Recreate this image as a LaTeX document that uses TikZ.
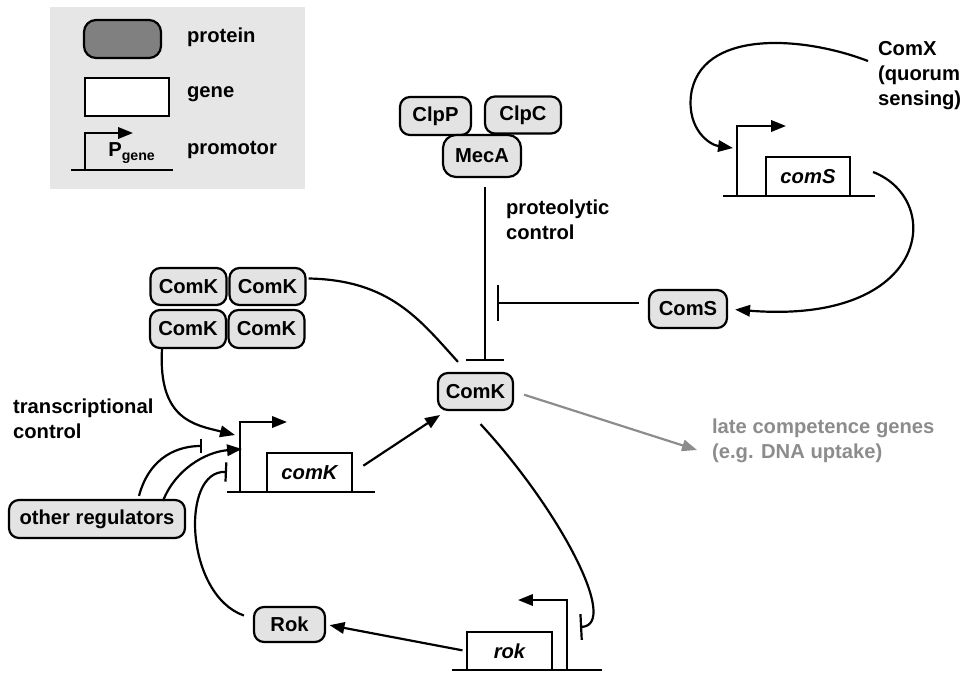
\documentclass[tikz,border=0pt]{standalone}
\usepackage{fontspec}
\setmainfont{Liberation Sans}
\usetikzlibrary{arrows.meta}
\definecolor{boxgray}{HTML}{E3E3E3}
\definecolor{leggray}{HTML}{E6E6E6}
\definecolor{darkprot}{HTML}{808080}
\definecolor{lategray}{HTML}{8C8C8C}
\begin{document}
\begin{tikzpicture}[x=0.02cm, y=-0.02cm, >={Triangle[length=8.5pt,width=6.5pt]}, line width=1.25pt,
    every node/.style={font=\bfseries\fontsize{11.5}{14.2}\selectfont},
    prot/.style={draw, fill=boxgray, rounded corners=0.2cm, minimum width=1.52cm, minimum height=0.74cm, inner sep=0pt},
    gene/.style={draw, fill=white, minimum width=1.7cm, minimum height=0.78cm, inner sep=0pt, font=\bfseries\itshape\fontsize{11.5}{14.2}\selectfont},
    lbl/.style={inner sep=0pt, anchor=west, align=left},
    inh/.style={-{Bar[width=#1]}}]
    \useasboundingbox (0,0) rectangle (964,673);
    % legend
    \fill[leggray] (50,7) rectangle (305,189);
    \node[prot, fill=darkprot, minimum width=1.54cm, minimum height=0.76cm, rounded corners=0.24cm] (legprot) at (122.5,39) {};
    \node[gene, minimum width=1.68cm, minimum height=0.76cm] (leggene) at (127,97) {};
    \draw (71,170) -- (173,170);
    \draw[->] (85,170) -- (85,133) -- (133,133);
    \node[inner sep=0pt] (pgene) at (132,153) {P\textsubscript{gene}};
    \node[lbl] (lprot) at (186,37) {protein};
    \node[lbl] (lgene) at (186,94) {gene};
    \node[lbl] (lprom) at (186,150) {promotor};
    % proteins
    \node[prot, minimum width=1.42cm, minimum height=0.76cm] (ClpP) at (435.5,116) {ClpP};
    \node[prot] (ClpC) at (523,115) {ClpC};
    \node[prot, minimum width=1.56cm, minimum height=0.84cm, rounded corners=0.26cm] (MecA) at (482,156) {MecA};
    \node[prot] (K1) at (188.5,286.5) {ComK};
    \node[prot] (K2) at (267.5,286.5) {ComK};
    \node[prot, minimum height=0.76cm] (K3) at (188,329) {ComK};
    \node[prot, minimum height=0.76cm] (K4) at (266.5,329) {ComK};
    \node[prot, minimum width=1.5cm] (ComK) at (475.5,391.5) {ComK};
    \node[prot, minimum width=1.56cm, minimum height=0.76cm] (ComS) at (688,309) {ComS};
    \node[prot, minimum width=3.52cm, minimum height=0.76cm] (oreg) at (97,519) {other regulators};
    \node[prot, minimum width=1.42cm, minimum height=0.7cm] (Rok) at (289.5,624.5) {Rok};
    % genes and promotors
    \node[gene] (gK) at (309.5,472.5) {comK};
    \draw (227,492) -- (375,492);
    \draw[->] (240,492) -- (240,422) -- (287,422);
    \node[gene, minimum height=0.76cm] (gR) at (509.5,651) {rok};
    \draw (452,670) -- (602,670);
    \draw[->] (567,670) -- (567,600) -- (518,600);
    \node[gene, minimum width=1.68cm] (gS) at (808,176.5) {comS};
    \draw (723,196) -- (875,196);
    \draw[->] (737,196) -- (737,126) -- (786,126);
    \coordinate (pKa) at (235,435);
    \coordinate (pKb) at (242,449);
    \coordinate (pKc) at (202,446);
    \coordinate (pKd) at (227,472);
    \coordinate (pR) at (580,627);
    \coordinate (pS) at (733,148);
    \coordinate (mecbar) at (485,361);
    \coordinate (sbar) at (497,303);
    \coordinate (lateTip) at (697,450);
    % labels
    \node[lbl] (proteo) at (505,219.5) {proteolytic\\control};
    \node[lbl] (transc) at (12,418.5) {transcriptional\\control};
    \node[lbl] (comX) at (877,76) {ComX\\(quorum\\sensing)};
    \node[lbl, text=lategray] (late) at (711,441) {late competence genes\\(e.g. DNA uptake)};
    % connectors
    \draw[inh=21.5pt] ([shift={(3,9)}]MecA.south) -- (mecbar);
    \draw[inh=20.4pt] ([shift={(-9,-6)}]ComS.west) -- (sbar);
    \draw ([shift={(2,-8)}]K2.east) .. controls (390,280) and (420,320) .. ([shift={(-17.5,-10)}]ComK.north);
    \draw[->] ([shift={(-26,0)}]K3.south) .. controls (158,420) and (195,425) .. (pKa);
    \draw[inh=8.5pt] ([shift={(42,-3)}]oreg.north) .. controls (150,455) and (180,446) .. (pKc);
    \draw[->] ([shift={(66,2)}]oreg.north) .. controls (175,470) and (205,452) .. (pKb);
    \draw[inh=11pt] ([shift={(-9,-9)}]Rok.west) .. controls (185,595) and (180,470) .. (pKd);
    \draw[->, shorten <=7pt, shorten >=4pt] (gK.east) -- (ComK);
    \draw[inh=14.7pt] ([shift={(5,13)}]ComK.south) .. controls (560,510) and (620,625) .. (pR);
    \draw[->, shorten <=2pt, shorten >=2pt] (gR.west) -- (Rok.east);
    \draw[->] ([shift={(-9,-15)}]comX.west) .. controls (800,35) and (700,30) .. (691,95) .. controls (687,130) and (710,145) .. (pS);
    \draw[->, shorten >=4pt] ([shift={(22,-4.5)}]gS.east) .. controls (945,200) and (930,325) .. (ComS.east);
    \draw[->, draw=lategray, fill=lategray, shorten <=6pt] (ComK.east) -- (lateTip);
\end{tikzpicture}
\end{document}
